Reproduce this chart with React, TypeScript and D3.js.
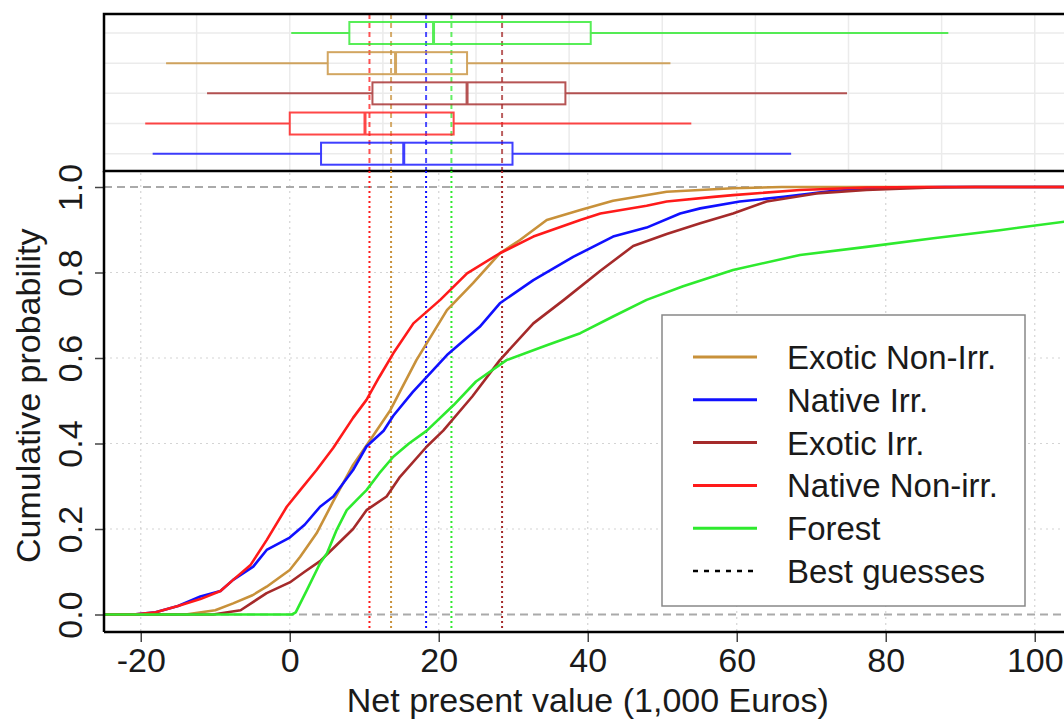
import React, { useEffect, useRef } from 'react';
import * as d3 from 'd3';

// Legend order
const seriesNames = ['Exotic Non-Irr.', 'Native Irr.', 'Exotic Irr.', 'Native Non-irr.', 'Forest'];
const seriesColors = ['#c8913a', '#1010ff', '#a52a2a', '#ff1a1a', '#2eea2e'];

// ECDF points: [NPV (1,000 Euros), cumulative probability]
const exoticNonIrr = [
  [-25, 0], [-14, 0], [-10, 0.01], [-7.6, 0.026], [-5, 0.045], [-3.1, 0.065], [0, 0.104], [1.4, 0.135],
  [3.6, 0.19], [5.85, 0.265], [8.5, 0.35], [10.8, 0.408], [13.5, 0.478], [17, 0.595], [21.1, 0.712],
  [24.6, 0.775], [28.2, 0.845], [30.9, 0.876], [34.5, 0.923], [39, 0.946], [43.4, 0.968], [50.6, 0.989],
  [59.5, 0.997], [66, 1], [110, 1],
];
const nativeIrr = [
  [-25, 0], [-21, 0], [-18, 0.005], [-15, 0.02], [-12, 0.042], [-9.3, 0.055], [-7.6, 0.081], [-4.9, 0.112],
  [-3.1, 0.151], [0, 0.18], [2, 0.21], [4.07, 0.252], [5.85, 0.276], [8.5, 0.338], [10.3, 0.393], [12.6, 0.43],
  [13.9, 0.465], [16.5, 0.52], [21.1, 0.607], [25.5, 0.673], [28.2, 0.728], [32.7, 0.782], [38.1, 0.837],
  [43.4, 0.884], [47.9, 0.905], [52.4, 0.938], [55.1, 0.95], [60.4, 0.966], [66.3, 0.977], [73, 0.991],
  [81.9, 0.999], [88, 1], [110, 1],
];
const exoticIrr = [
  [-25, 0], [-10.3, 0], [-6.6, 0.01], [-3.1, 0.05], [0, 0.075], [2, 0.1], [4.07, 0.125], [5.85, 0.155],
  [8.5, 0.2], [10.3, 0.244], [13, 0.276], [14.8, 0.322], [18.4, 0.393], [20.6, 0.43], [24.5, 0.51],
  [28.2, 0.595], [32.7, 0.681], [36.8, 0.736], [41.7, 0.804], [46.1, 0.862], [50.6, 0.89], [55.1, 0.915],
  [59.5, 0.938], [64, 0.966], [70.7, 0.985], [77.4, 0.993], [86.4, 0.999], [92, 1], [110, 1],
];
const nativeNonIrr = [
  [-25, 0], [-21, 0], [-18, 0.005], [-15, 0.02], [-12, 0.036], [-9.3, 0.055], [-7.6, 0.081], [-5.3, 0.115],
  [-3.1, 0.174], [-0.4, 0.252], [1.4, 0.291], [3.6, 0.338], [5.85, 0.39], [8.5, 0.46], [10.3, 0.502],
  [12, 0.555], [13.9, 0.611], [16.6, 0.681], [20.2, 0.736], [23.8, 0.798], [28.2, 0.845], [32.7, 0.884],
  [39, 0.923], [41.7, 0.938], [47.9, 0.956], [50.6, 0.966], [56.9, 0.977], [59.5, 0.981], [68.5, 0.993],
  [77.4, 0.999], [85, 1], [110, 1],
];
const forest = [
  [-25, 0], [0.3, 0], [0.8, 0.005], [2.3, 0.057], [4.07, 0.12], [5, 0.143], [6.3, 0.198], [7.65, 0.244],
  [9, 0.268], [10.3, 0.291], [12, 0.33], [13.9, 0.369], [16, 0.4], [18.4, 0.43], [22, 0.49], [25, 0.545],
  [29.1, 0.595], [34.5, 0.63], [39, 0.658], [43.4, 0.697], [47.9, 0.736], [52.8, 0.768], [59.5, 0.806],
  [68.5, 0.841], [77.4, 0.86], [86.4, 0.88], [95.3, 0.899], [104, 0.919], [110, 0.93],
];
const ecdfSeries = [exoticNonIrr, nativeIrr, exoticIrr, nativeNonIrr, forest];

// Best guesses (same order as legend)
const bestGuesses = [13.6, 18.3, 28.5, 10.7, 21.7];

// Boxplot rows top to bottom, stats: [whisker low, q1, median, q3, whisker high]
const boxRows = ['Forest', 'Exotic Non-Irr.', 'Exotic Irr.', 'Native Non-irr.', 'Native Irr.'];
const boxForest = [0.2, 8.0, 19.3, 40.4, 88.4];
const boxExoticNonIrr = [-16.6, 5.1, 14.2, 23.8, 51.1];
const boxExoticIrr = [-11.1, 11.1, 23.8, 37.0, 74.8];
const boxNativeNonIrr = [-19.4, 0.0, 10.1, 22.0, 53.9];
const boxNativeIrr = [-18.4, 4.2, 15.3, 29.9, 67.3];
const boxStats = [boxForest, boxExoticNonIrr, boxExoticIrr, boxNativeNonIrr, boxNativeIrr];
const boxColorIdx = [4, 0, 2, 3, 1];

const xTicks = [-20, 0, 20, 40, 60, 80, 100];
const yTicks = [0, 0.2, 0.4, 0.6, 0.8, 1.0];
const yTickLabels = ['0.0', '0.2', '0.4', '0.6', '0.8', '1.0'];

const FONT = '"Liberation Sans", Arial, Helvetica, sans-serif';

function App() {
  const ref = useRef(null);

  useEffect(() => {
    const svg = d3.select(ref.current);
    svg.selectAll('*').remove();

    const left = 104, right = 1072;
    const boxTop = 14, boxBottom = 171;
    const plotBottom = 632;

    const x = d3.scaleLinear().domain([-25, 105]).range([103.5, 1072]);
    const y = d3.scaleLinear().domain([0, 1]).range([614.5, 187]);
    const yBox = d3.scalePoint().domain(boxRows).range([33, 153.7]);

    // ---- Boxplot panel
    const top = svg.append('g');
    top.selectAll('.vgrid')
      .data(d3.range(-12.5, 105, 12.5))
      .join('line')
      .attr('x1', d => x(d)).attr('x2', d => x(d))
      .attr('y1', boxTop).attr('y2', boxBottom)
      .attr('stroke', '#ebebeb').attr('stroke-width', 1.5);
    top.selectAll('.hgrid')
      .data(boxRows)
      .join('line')
      .attr('x1', left).attr('x2', right)
      .attr('y1', d => yBox(d)).attr('y2', d => yBox(d))
      .attr('stroke', '#ebebeb').attr('stroke-width', 1.5);

    top.selectAll('.bg-top')
      .data(bestGuesses)
      .join('line')
      .attr('x1', d => x(d)).attr('x2', d => x(d))
      .attr('y1', boxTop).attr('y2', boxBottom)
      .attr('stroke', (d, i) => seriesColors[i])
      .attr('stroke-width', 2)
      .attr('stroke-dasharray', '5,4')
      .attr('opacity', 0.75);

    boxRows.forEach((row, i) => {
      const s = boxStats[i];
      const c = seriesColors[boxColorIdx[i]];
      const cy = yBox(row);
      const g = top.append('g').attr('opacity', 0.8);
      g.append('line').attr('x1', x(s[0])).attr('x2', x(s[1])).attr('y1', cy).attr('y2', cy)
        .attr('stroke', c).attr('stroke-width', 2);
      g.append('line').attr('x1', x(s[3])).attr('x2', x(s[4])).attr('y1', cy).attr('y2', cy)
        .attr('stroke', c).attr('stroke-width', 2);
      g.append('rect').attr('x', x(s[1])).attr('y', cy - 11)
        .attr('width', x(s[3]) - x(s[1])).attr('height', 22)
        .attr('fill', 'none').attr('stroke', c).attr('stroke-width', 2);
      g.append('line').attr('x1', x(s[2])).attr('x2', x(s[2])).attr('y1', cy - 11).attr('y2', cy + 11)
        .attr('stroke', c).attr('stroke-width', 3);
    });

    top.append('rect')
      .attr('x', left).attr('y', boxTop)
      .attr('width', right - left).attr('height', boxBottom - boxTop)
      .attr('fill', 'none').attr('stroke', '#000').attr('stroke-width', 2.5);

    // ---- Main ECDF panel
    const main = svg.append('g');

    main.selectAll('.xgrid')
      .data(xTicks)
      .join('line')
      .attr('x1', d => x(d)).attr('x2', d => x(d))
      .attr('y1', boxBottom + 2).attr('y2', plotBottom)
      .attr('stroke', '#d4d4d4').attr('stroke-width', 1.2).attr('stroke-dasharray', '2,4');
    main.selectAll('.ygrid')
      .data([0.2, 0.4, 0.6, 0.8])
      .join('line')
      .attr('x1', left).attr('x2', right)
      .attr('y1', d => y(d)).attr('y2', d => y(d))
      .attr('stroke', '#d4d4d4').attr('stroke-width', 1.2).attr('stroke-dasharray', '2,4');
    main.selectAll('.refline')
      .data([0, 1])
      .join('line')
      .attr('x1', left).attr('x2', right)
      .attr('y1', d => y(d)).attr('y2', d => y(d))
      .attr('stroke', '#aaaaaa').attr('stroke-width', 2).attr('stroke-dasharray', '8,5');

    main.selectAll('.bg-main')
      .data(bestGuesses)
      .join('line')
      .attr('x1', d => x(d)).attr('x2', d => x(d))
      .attr('y1', boxBottom).attr('y2', plotBottom)
      .attr('stroke', (d, i) => seriesColors[i])
      .attr('stroke-width', 2)
      .attr('stroke-dasharray', '2,3');

    const lineGen = d3.line()
      .x(d => x(d[0]))
      .y(d => y(d[1]));

    main.selectAll('.ecdf')
      .data(ecdfSeries)
      .join('path')
      .attr('d', d => lineGen(d))
      .attr('fill', 'none')
      .attr('stroke', (d, i) => seriesColors[i])
      .attr('stroke-width', 2.6)
      .attr('stroke-linejoin', 'round');

    // Axes
    const xAxis = main.append('g')
      .attr('transform', `translate(0, ${plotBottom})`)
      .call(d3.axisBottom(x).tickValues(xTicks).tickSize(10).tickPadding(6).tickFormat(d3.format('d')));
    xAxis.select('.domain').remove();
    xAxis.selectAll('line').attr('stroke', '#444').attr('stroke-width', 1.5);
    xAxis.selectAll('text')
      .attr('font-family', FONT).attr('font-size', 34).attr('fill', '#1a1a1a')
      .text(d => (d < 0 ? '-' + Math.abs(d) : String(d)));

    const yAxis = main.append('g')
      .attr('transform', `translate(${left}, 0)`)
      .call(d3.axisLeft(y).tickValues(yTicks).tickSize(9).tickFormat((d, i) => yTickLabels[i]));
    yAxis.select('.domain').remove();
    yAxis.selectAll('line').attr('stroke', '#444').attr('stroke-width', 1.5);
    yAxis.selectAll('text')
      .attr('x', null).attr('dy', null)
      .attr('transform', 'translate(-22, 0) rotate(-90)')
      .attr('text-anchor', 'middle')
      .attr('font-family', FONT).attr('font-size', 34).attr('fill', '#1a1a1a');

    main.append('line')
      .attr('x1', left).attr('x2', left).attr('y1', boxBottom).attr('y2', plotBottom)
      .attr('stroke', '#000').attr('stroke-width', 2.5);
    main.append('line')
      .attr('x1', left).attr('x2', right).attr('y1', plotBottom).attr('y2', plotBottom)
      .attr('stroke', '#000').attr('stroke-width', 2.5);

    main.append('text')
      .attr('x', (x(-25) + x(105)) / 2).attr('y', 712)
      .attr('text-anchor', 'middle')
      .attr('font-family', FONT).attr('font-size', 34).attr('fill', '#1a1a1a')
      .text('Net present value (1,000 Euros)');
    main.append('text')
      .attr('transform', `translate(40, ${(y(0) + y(1)) / 2 - 5}) rotate(-90)`)
      .attr('text-anchor', 'middle')
      .attr('font-family', FONT).attr('font-size', 34).attr('fill', '#1a1a1a')
      .text('Cumulative probability');

    // Legend
    const legend = main.append('g');
    legend.append('rect')
      .attr('x', 662).attr('y', 315).attr('width', 363).attr('height', 291)
      .attr('fill', '#fff').attr('stroke', '#888').attr('stroke-width', 1.5);
    const legendNames = [...seriesNames, 'Best guesses'];
    const legendColors = [...seriesColors, '#000'];
    const ly = d3.scaleLinear().domain([0, 5]).range([357, 571]);
    legendNames.forEach((name, i) => {
      legend.append('line')
        .attr('x1', 693).attr('x2', 757).attr('y1', ly(i)).attr('y2', ly(i))
        .attr('stroke', legendColors[i])
        .attr('stroke-width', i === 5 ? 2.5 : 3)
        .attr('stroke-dasharray', i === 5 ? '5,6' : null);
      legend.append('text')
        .attr('x', 787).attr('y', ly(i) + 12)
        .attr('font-family', FONT).attr('font-size', 33).attr('fill', '#1a1a1a')
        .text(name);
    });
  }, []);

  return (
    <div style={{ position: 'absolute', left: 0, top: 0 }}>
      <svg ref={ref} width={1064} height={722} style={{ display: 'block', background: '#fff' }} />
    </div>
  );
}

export default App;
